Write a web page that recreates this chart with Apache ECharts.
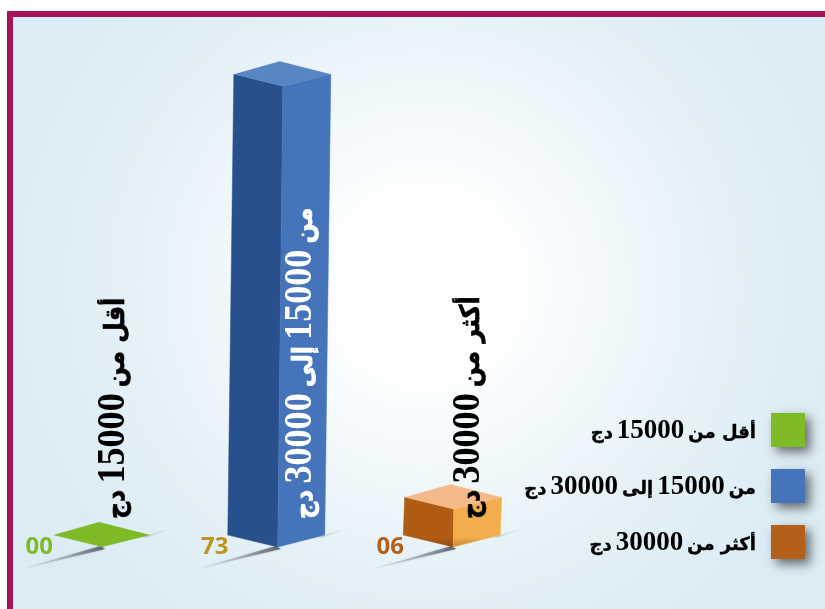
<!DOCTYPE html>
<html>
<head>
<meta charset="utf-8">
<style>html,body{margin:0;padding:0;background:#fff}#main{width:825px;height:609px}</style>
<script src="https://cdn.jsdelivr.net/npm/echarts@6/dist/echarts.min.js"></script>
</head>
<body>
<div id="main" dir="rtl"></div>
<script>
const categories = ['أقل من 15000 دج', 'من 15000 إلى 30000 دج', 'أكثر من 30000 دج'];
const values = [0, 73, 6];
const valueLabels = ['00', '73', '06'];
const legendColors = ['#7fba27', '#4674ba', '#b45f1a'];
const leftFaces = ['#7fba27', '#28508c', '#b05c14'];
const rightFaces = ['#7fba27', '#4674ba', '#f2ae4d'];
const leftFoot = ['#7fba27', '#28508c', '#8f4a10'];
const rightFoot = ['#7fba27', '#4674ba', '#c4843a'];
const topFaces = ['#7fba27', '#5885c3', '#f5b98a'];
const labelColors = ['#7fba27', '#bf9318', '#b3601a'];
const textColors = ['#000', '#fff', '#000'];
const textOffsets = [11, 23, 15];

// Arabic and Latin runs use different sizes, so each label is laid out run by run, in visual order.
function richLabel(name) {
  return name.split(/(\d+)/).map(s => s.trim()).filter(Boolean).reverse()
    .map(s => (/^\d+$/.test(s) ? '{d|' : '{a|') + s + '}').join('');
}
function barLabelRich(color) {
  return {
    d: { fontFamily: '"Liberation Serif",serif', fontWeight: 'bold', fontSize: 41, fill: color, padding: [0, 7, 0, 7] },
    a: { fontFamily: '"DejaVu Sans",sans-serif', fontWeight: 'bold', fontSize: 27, fill: color,
      stroke: color, lineWidth: 0.7, padding: [8, 0, 0, 0] }
  };
}
const legendRich = {
  d: { fontFamily: '"Liberation Serif",serif', fontWeight: 'bold', fontSize: 27, color: '#000', padding: [0, 4, 0, 4] },
  a: { fontFamily: '"DejaVu Sans",sans-serif', fontWeight: 'bold', fontSize: 18, color: '#000',
    textBorderColor: '#000', textBorderWidth: 0.4, padding: [3, 0, 0, 0] }
};
function faceFill(top, foot) {
  return new echarts.graphic.LinearGradient(0, 0, 0, 1, [
    { offset: 0, color: top }, { offset: 0.8, color: top }, { offset: 1, color: foot }]);
}

function renderBar(params, api) {
  const i = api.value(0);
  const base = api.coord([i, 0]);
  const head = api.coord([i, api.value(1)]);
  const x = base[0], y = base[1];
  const h = y - head[1];
  const lean = h * 0.011;
  const tx = x + lean, ty = head[1];
  const children = [];
  children.push({
    type: 'polygon', silent: true,
    shape: { points: [[x - 92, y + 25], [x - 2, y - 1], [x + 3, y + 2]] },
    style: { shadowBlur: 3, shadowColor: 'rgba(80,90,95,0.3)', fill: new echarts.graphic.LinearGradient(0, 0, 1, 0, [
      { offset: 0, color: 'rgba(90,100,105,0)' }, { offset: 0.5, color: 'rgba(80,90,95,0.3)' }, { offset: 1, color: 'rgba(55,60,65,0.75)' }]) }
  });
  children.push({
    type: 'polygon', silent: true,
    shape: { points: [[x + 40, y - 10], [x + 76, y - 21], [x + 44, y - 9]] },
    style: { fill: new echarts.graphic.LinearGradient(0, 0, 1, 0, [
      { offset: 0, color: 'rgba(90,100,105,0.25)' }, { offset: 1, color: 'rgba(90,100,105,0)' }]) }
  });
  if (h > 0) {
    children.push({
      type: 'polygon', shape: { points: [[x - 50, y - 12], [x, y], [tx, ty], [tx - 49, ty - 12]] },
      style: { fill: faceFill(leftFaces[i], leftFoot[i]), stroke: leftFaces[i], lineWidth: 0.5 }
    });
    children.push({
      type: 'polygon', shape: { points: [[x, y], [x + 47, y - 12], [tx + 48, ty - 12], [tx, ty]] },
      style: { fill: faceFill(rightFaces[i], rightFoot[i]), stroke: rightFaces[i], lineWidth: 0.5 }
    });
  }
  children.push({
    type: 'polygon', shape: { points: [[tx, ty], [tx + 48, ty - 12], [tx - 3, ty - 25], [tx - 49, ty - 12]] },
    style: { fill: topFaces[i] }
  });
  children.push({
    type: 'text', x: x - 63, y: y,
    style: { text: valueLabels[i], fill: labelColors[i], align: 'center', verticalAlign: 'middle',
      font: 'bold 24px "Open Sans","DejaVu Sans",sans-serif' }
  });
  children.push({
    type: 'text', x: x + textOffsets[i], y: y - 28, rotation: Math.PI / 2, scaleX: 0.88,
    style: { text: richLabel(categories[i]), fill: textColors[i], align: 'left', verticalAlign: 'middle',
      rich: barLabelRich(textColors[i]) }
  });
  return { type: 'group', children };
}

const chart = echarts.init(document.getElementById('main'), null, { renderer: 'canvas' });
chart.setOption({
  animation: false,
  graphic: { elements: [
    { type: 'rect', silent: true, z: -2, shape: { x: 7, y: 11, width: 830, height: 610 }, style: { fill: '#a5145a' } },
    { type: 'rect', silent: true, z: -1, shape: { x: 13, y: 17, width: 820, height: 600 }, style: {
      fill: new echarts.graphic.RadialGradient(425, 285, 430, [
        { offset: 0, color: '#ffffff' }, { offset: 0.25, color: '#fbfdfe' }, { offset: 0.7, color: '#e4f1f7' }, { offset: 1, color: '#dbecf4' }], true)
    } }
  ] },
  grid: { left: 14.5, width: 526.5, top: 42, height: 505 },
  xAxis: { type: 'category', data: categories, show: false },
  yAxis: { type: 'value', min: 0, max: 80, show: false },
  legend: {
    orient: 'vertical', right: 15, top: 408, align: 'right', itemWidth: 34, itemHeight: 34, itemGap: 22,
    icon: 'rect', selectedMode: false,
    data: categories,
    formatter: richLabel,
    itemStyle: { shadowColor: 'rgba(0,0,0,0.55)', shadowBlur: 10, shadowOffsetX: 5, shadowOffsetY: 5 },
    textStyle: { color: '#000', padding: [3, 10, 0, 0], rich: legendRich }
  },
  series: categories.map((name, i) => ({
    type: 'custom', name, renderItem: renderBar,
    itemStyle: { color: legendColors[i] },
    encode: { x: 0, y: 1 },
    data: [[i, values[i]]]
  }))
});
</script>
</body>
</html>
